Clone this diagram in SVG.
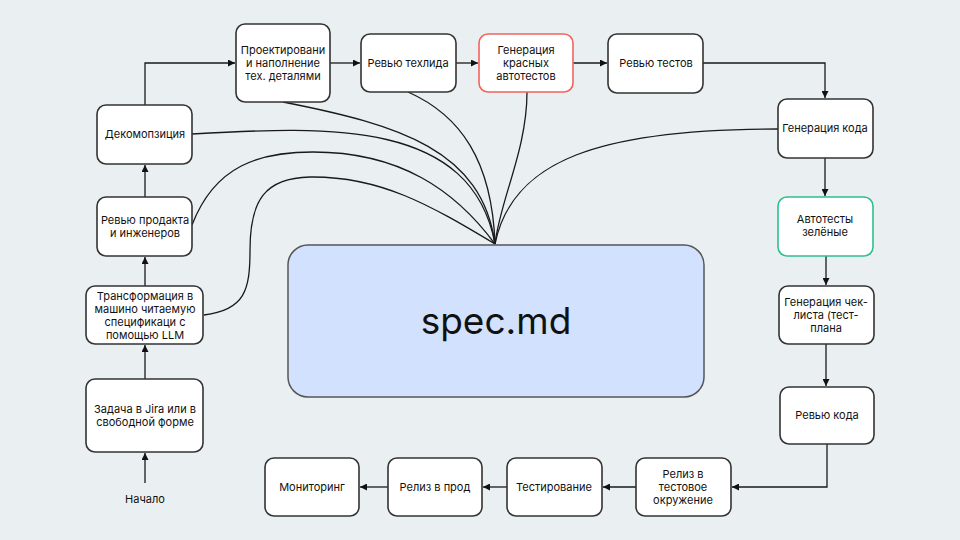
<svg xmlns="http://www.w3.org/2000/svg" width="960" height="540" viewBox="0 0 960 540">
<defs>
<marker id="arr" viewBox="0 0 10 10" refX="10" refY="5" markerWidth="7" markerHeight="7" markerUnits="userSpaceOnUse" orient="auto">
<path d="M0,0 L10,5 L0,10 z" fill="#111"/>
</marker>
<style>
.n{fill:#fff;stroke:#333;stroke-width:1.6}
.red{stroke:#F2645C}
.green{stroke:#2EC08C}
.t{font-family:Inter,"Noto Sans",sans-serif;font-size:11px;fill:#111;text-anchor:middle}
.e{fill:none;stroke:#1a1a1a;stroke-width:1.3}
.c{fill:none;stroke:#1a1a1a;stroke-width:1.3}
</style>
</defs>
<rect width="960" height="540" fill="#EAEFF2"/>
<g id="connectors">
<path class="e" d="M145,483 V453" marker-end="url(#arr)"/>
<path class="e" d="M145,379 V345" marker-end="url(#arr)"/>
<path class="e" d="M145,286 V257" marker-end="url(#arr)"/>
<path class="e" d="M145,197 V165" marker-end="url(#arr)"/>
<path class="e" d="M145,105 V63 H235" marker-end="url(#arr)"/>
<path class="e" d="M330,63 H360" marker-end="url(#arr)"/>
<path class="e" d="M456,63 H478" marker-end="url(#arr)"/>
<path class="e" d="M573,63 H607" marker-end="url(#arr)"/>
<path class="e" d="M703,63 H825 V98" marker-end="url(#arr)"/>
<path class="e" d="M825,158 V196" marker-end="url(#arr)"/>
<path class="e" d="M826,256 V285" marker-end="url(#arr)"/>
<path class="e" d="M826,344 V386" marker-end="url(#arr)"/>
<path class="e" d="M827,444 V487 H732" marker-end="url(#arr)"/>
<path class="e" d="M636,487 H603" marker-end="url(#arr)"/>
<path class="e" d="M507,487 H483" marker-end="url(#arr)"/>
<path class="e" d="M388,487 H360" marker-end="url(#arr)"/>
<path class="c" d="M283,102 C400,125 482,150 495,244"/>
<path class="c" d="M192,134 C330,126 472,120 495,244"/>
<path class="c" d="M192,225 C215,165 260,152 313,152 C400,152 455,190 495,244"/>
<path class="c" d="M204,315 C245,310 250,290 250,250 C250,200 265,178 310,177 C380,176 430,205 495,244"/>
<path class="c" d="M408,92 C460,115 492,160 495,244"/>
<path class="c" d="M527,92 C527,150 500,200 495,244"/>
<path class="c" d="M778,129 C600,129 512,160 495,244"/>
</g>
<g id="spec">
<rect x="288" y="245" width="416" height="152" rx="20" fill="#D2E1FD" stroke="#555" stroke-width="1.5"/>
<text x="496" y="334" font-family="Inter,'Noto Sans',sans-serif" font-size="37" fill="#111" text-anchor="middle">spec.md</text>
</g>
<g id="start"><text class="t" x="145" y="503">Начало</text></g>
<g id="jira"><rect class="n" x="86" y="379" width="117" height="73" rx="9"/><text class="t" x="145" y="413">Задача в Jira или в</text><text class="t" x="145" y="426">свободной форме</text></g>
<g id="transform"><rect class="n" x="86" y="286" width="117" height="58" rx="9"/><text class="t" x="145" y="300">Трансформация в</text><text class="t" x="145" y="313">машино читаемую</text><text class="t" x="145" y="326">спецификаци с</text><text class="t" x="145" y="339">помощью LLM</text></g>
<g id="review-product"><rect class="n" x="97" y="197" width="95" height="59" rx="9"/><text class="t" x="145" y="224">Ревью продакта</text><text class="t" x="145" y="237">и инженеров</text></g>
<g id="decomp"><rect class="n" x="97" y="105" width="95" height="59" rx="9"/><text class="t" x="145" y="138">Декомопзиция</text></g>
<g id="design"><rect class="n" x="236" y="24" width="94" height="78" rx="9"/><text class="t" x="283" y="54">Проектировани</text><text class="t" x="283" y="67">и наполнение</text><text class="t" x="283" y="80">тех. деталями</text></g>
<g id="review-techlead"><rect class="n" x="361" y="34" width="95" height="58" rx="9"/><text class="t" x="408" y="67">Ревью техлида</text></g>
<g id="red-tests"><rect class="n red" x="479" y="34" width="94" height="58" rx="9"/><text class="t" x="526" y="54">Генерация</text><text class="t" x="526" y="67">красных</text><text class="t" x="526" y="80">автотестов</text></g>
<g id="review-tests"><rect class="n" x="608" y="34" width="95" height="59" rx="9"/><text class="t" x="656" y="67">Ревью тестов</text></g>
<g id="codegen"><rect class="n" x="778" y="99" width="95" height="59" rx="9"/><text class="t" x="825" y="132">Генерация кода</text></g>
<g id="green-tests"><rect class="n green" x="778" y="197" width="95" height="59" rx="9"/><text class="t" x="825" y="223">Автотесты</text><text class="t" x="825" y="236">зелёные</text></g>
<g id="checklist"><rect class="n" x="779" y="286" width="95" height="58" rx="9"/><text class="t" x="826" y="306">Генерация чек-</text><text class="t" x="826" y="319">листа (тест-</text><text class="t" x="826" y="332">плана</text></g>
<g id="review-code"><rect class="n" x="780" y="387" width="94" height="57" rx="9"/><text class="t" x="827" y="419">Ревью кода</text></g>
<g id="release-test"><rect class="n" x="636" y="458" width="95" height="58" rx="9"/><text class="t" x="683" y="478">Релиз в</text><text class="t" x="683" y="491">тестовое</text><text class="t" x="683" y="504">окружение</text></g>
<g id="testing"><rect class="n" x="507" y="458" width="95" height="58" rx="9"/><text class="t" x="554" y="491">Тестирование</text></g>
<g id="release-prod"><rect class="n" x="388" y="458" width="94" height="58" rx="9"/><text class="t" x="435" y="491">Релиз в прод</text></g>
<g id="monitoring"><rect class="n" x="265" y="458" width="94" height="58" rx="9"/><text class="t" x="312" y="491">Мониторинг</text></g>
</svg>
